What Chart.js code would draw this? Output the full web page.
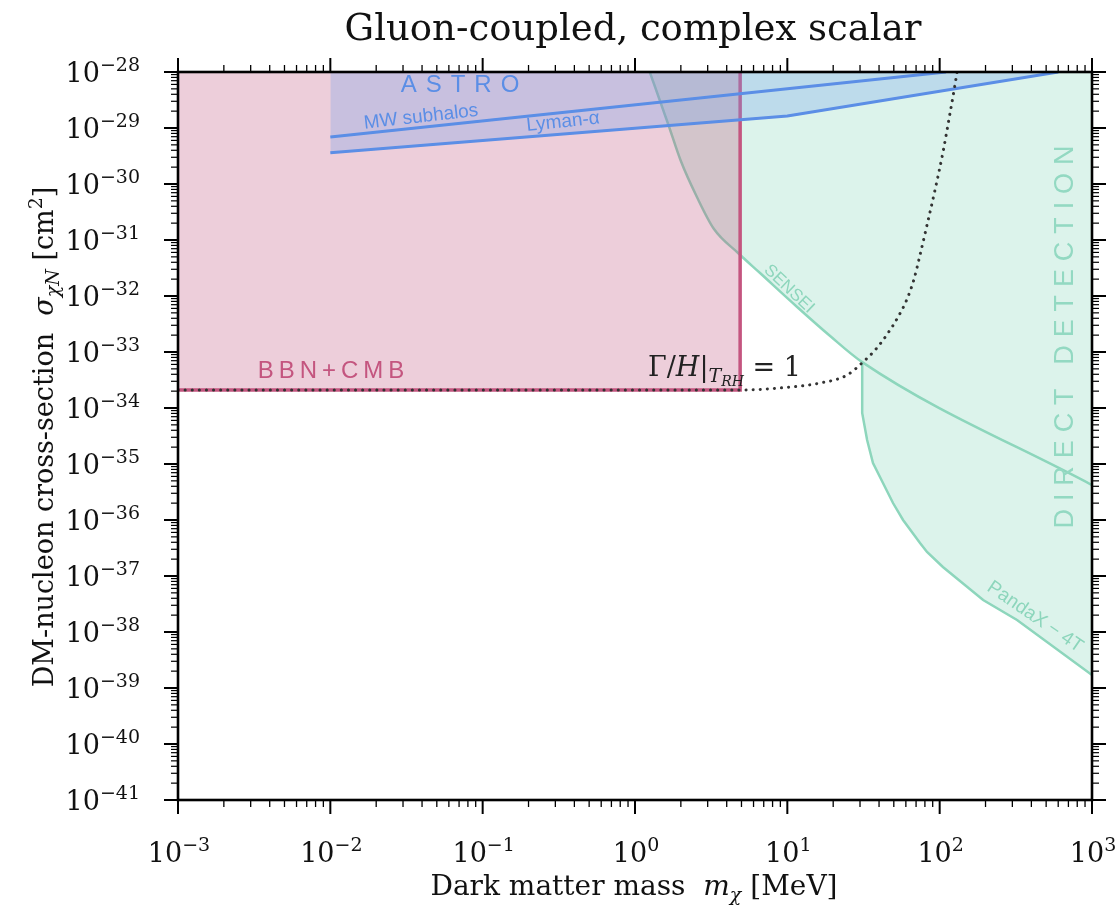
<!DOCTYPE html>
<html lang="en">
<head>
  <meta charset="UTF-8">
  <title>Gluon-coupled, complex scalar</title>
  <script src="https://cdn.jsdelivr.net/npm/chart.js"></script>
  <style>
    body { margin: 0; background: #fff; }
  </style>
</head>
<body>
  <canvas id="dmChart" width="1119" height="912"></canvas>

  <script>
    // axis decades (powers of ten)
    const xDecades = [-3, -2, -1, 0, 1, 2, 3];
    const yDecades = [-28, -29, -30, -31, -32, -33, -34, -35, -36, -37, -38, -39, -40, -41];

    // BBN + CMB excluded box (mass in MeV, cross-section in cm^2)
    const bbnX = [1e-3, 4.9, 4.9];
    const bbnY = [2.1e-34, 2.1e-34, 1e-28];

    // astro bounds
    const mwX = [0.01, 110];
    const mwY = [6.9e-30, 1e-28];
    const lyaX = [0.01, 10, 600];
    const lyaY = [3.6e-30, 1.64e-29, 1e-28];

    // direct detection
    const senseiX = [1.25, 1.65, 2.0, 2.55, 3.3, 4.75, 6.62, 11.6, 19.1, 31, 1000];
    const senseiY = [1e-28, 1.18e-29, 2.57e-30, 5.86e-31, 1.57e-31, 5.86e-32, 2.57e-32, 6.37e-33, 1.93e-33, 6.6e-34, 4.2e-36];
    const pandaX = [31, 31, 33.4, 36.5, 49.4, 57.5, 74.3, 82.6, 105, 193, 322, 1000];
    const pandaY = [6.6e-34, 8.15e-35, 2.68e-35, 1.04e-35, 2.01e-36, 1.0e-36, 3.88e-37, 2.68e-37, 1.45e-37, 3.73e-38, 1.64e-38, 1.71e-39];

    // Gamma/H = 1 at T_RH
    const gammaX = [1e-3, 4.9, 8.95, 16.4, 24.7, 31.4, 38.2, 45.8, 53.3, 61.1, 67.9, 74.3, 82.6, 93.2, 105.2, 117, 126, 130];
    const gammaY = [2.09e-34, 2.09e-34, 2.28e-34, 2.79e-34, 3.88e-34, 6.63e-34, 1.13e-33, 2.18e-33, 4.22e-33, 8.84e-33, 2.01e-32, 5.4e-32, 1.85e-31, 7.82e-31, 3.73e-30, 1.85e-29, 5.86e-29, 1e-28];

    // union of SENSEI + PandaX regions
    const detX = senseiX.slice(0, 10).concat(pandaX.slice(1));
    const detY = senseiY.slice(0, 10).concat(pandaY.slice(1));

    function pts(xs, ys) {
      return xs.map((x, i) => ({ x: x, y: ys[i] }));
    }

    const SERIF = '"DejaVu Serif", serif';
    const SANS = '"Liberation Sans", Arial, sans-serif';

    // draw a list of text runs in a row, anchored on (cx, cy) after rotation
    function drawRuns(ctx, runs, cx, cy, angle, align) {
      ctx.save();
      ctx.translate(cx, cy);
      ctx.rotate(angle || 0);
      let total = 0;
      runs.forEach(r => { ctx.font = r.font; r.w = ctx.measureText(r.t).width; total += r.w; });
      let x = align === 'right' ? -total : (align === 'left' ? 0 : -total / 2);
      ctx.textBaseline = 'alphabetic';
      ctx.textAlign = 'left';
      runs.forEach(r => {
        ctx.font = r.font;
        ctx.fillStyle = r.color || '#111';
        ctx.fillText(r.t, x, r.dy || 0);
        x += r.w;
      });
      ctx.restore();
    }

    // letter-spaced label
    function spacedText(ctx, text, cx, cy, angle, font, color, gap) {
      ctx.save();
      ctx.translate(cx, cy);
      ctx.rotate(angle || 0);
      ctx.font = font;
      ctx.fillStyle = color;
      ctx.textBaseline = 'middle';
      ctx.textAlign = 'left';
      const chars = text.split('');
      let total = 0;
      chars.forEach(c => { total += (c === ' ' ? gap * 2 : ctx.measureText(c).width + gap); });
      total -= gap;
      let x = -total / 2;
      chars.forEach(c => {
        if (c === ' ') { x += gap * 2; return; }
        ctx.fillText(c, x, 0);
        x += ctx.measureText(c).width + gap;
      });
      ctx.restore();
    }

    function rotatedText(ctx, text, cx, cy, angle, font, color) {
      ctx.save();
      ctx.fillStyle = color;
      ctx.font = font;
      ctx.textAlign = 'center';
      ctx.textBaseline = 'middle';
      ctx.translate(cx, cy);
      ctx.rotate(angle);
      ctx.fillText(text, 0, 0);
      ctx.restore();
    }

    function supLabel(p) {
      return [
        { t: '10', font: '27px ' + SERIF },
        { t: (p < 0 ? '\u2212' : '') + Math.abs(p), font: '19px ' + SERIF, dy: -11 }
      ];
    }

    const decorPlugin = {
      id: 'decor',
      afterDatasetsDraw(chart) {
        const ctx = chart.ctx;
        // region labels
        spacedText(ctx, 'ASTRO', 460, 85, 0, '24px ' + SANS, '#5b8ee6', 9);
        spacedText(ctx, 'BBN+CMB', 331, 371, 0, '24px ' + SANS, '#c4557f', 5);
        spacedText(ctx, 'DIRECT DETECTION', 1066, 337, -Math.PI / 2, '27px ' + SANS, '#93d9c2', 7.9);

        rotatedText(ctx, 'MW subhalos', 421, 117, -0.112, '19px ' + SANS, '#5b8ee6');
        rotatedText(ctx, 'Lyman-\u03b1', 563, 122, -0.105, '19px ' + SANS, '#5b8ee6');
        rotatedText(ctx, 'SENSEI', 789, 289, 0.76, '17px ' + SANS, '#8dd6bc');
        rotatedText(ctx, 'PandaX \u2212 4T', 1035, 617, 0.6, '19px ' + SANS, '#8dd6bc');

        // Gamma/H|_{T_RH} = 1
        drawRuns(ctx, [
          { t: '\u0393/', font: '27px ' + SERIF, color: '#222' },
          { t: 'H', font: 'italic 27px ' + SERIF, color: '#222' },
          { t: '|', font: '27px ' + SERIF, color: '#222' },
          { t: 'T', font: 'italic 19px ' + SERIF, color: '#222', dy: 6 },
          { t: 'RH', font: 'italic 14px ' + SERIF, color: '#222', dy: 10 },
          { t: ' = 1', font: '27px ' + SERIF, color: '#222' }
        ], 648, 376, 0, 'left');
      },
      afterDraw(chart) {
        const ctx = chart.ctx;
        const a = chart.chartArea;
        const xs = chart.scales.x;
        const ys = chart.scales.y;

        ctx.save();
        ctx.strokeStyle = '#000';
        // minor + major ticks, outward on all four sides
        const tick = (x1, y1, x2, y2, w) => {
          ctx.lineWidth = w;
          ctx.beginPath();
          ctx.moveTo(x1, y1);
          ctx.lineTo(x2, y2);
          ctx.stroke();
        };
        xDecades.forEach(p => {
          const px = xs.getPixelForValue(Math.pow(10, p));
          tick(px, a.bottom, px, a.bottom + 14, 2);
          tick(px, a.top, px, a.top - 14, 2);
          if (p < 3) {
            for (let k = 2; k <= 9; k++) {
              const mx = xs.getPixelForValue(k * Math.pow(10, p));
              tick(mx, a.bottom, mx, a.bottom + 7, 1.3);
              tick(mx, a.top, mx, a.top - 7, 1.3);
            }
          }
        });
        yDecades.forEach(p => {
          const py = ys.getPixelForValue(Math.pow(10, p));
          tick(a.left, py, a.left - 14, py, 2);
          tick(a.right, py, a.right + 14, py, 2);
          if (p > -41) {
            for (let k = 2; k <= 9; k++) {
              const my = ys.getPixelForValue(k * Math.pow(10, p - 1));
              tick(a.left, my, a.left - 7, my, 1.2);
              tick(a.right, my, a.right + 7, my, 1.2);
            }
          }
        });
        // frame
        ctx.lineWidth = 2.6;
        ctx.strokeRect(a.left, a.top, a.right - a.left, a.bottom - a.top);
        ctx.restore();

        // tick labels
        xDecades.forEach(p => {
          const px = xs.getPixelForValue(Math.pow(10, p));
          drawRuns(ctx, supLabel(p), px + 1, 862, 0, 'center');
        });
        yDecades.forEach(p => {
          const py = ys.getPixelForValue(Math.pow(10, p));
          drawRuns(ctx, supLabel(p), 140, py + 10, 0, 'right');
        });

        // title and axis titles
        drawRuns(ctx, [{ t: 'Gluon-coupled, complex scalar', font: '37px ' + SERIF }], 633, 40, 0, 'center');
        drawRuns(ctx, [
          { t: 'Dark matter mass  ', font: '28px ' + SERIF },
          { t: 'm', font: 'italic 28px ' + SERIF },
          { t: '\u03c7', font: 'italic 19px ' + SERIF, dy: 6 },
          { t: ' [MeV]', font: '28px ' + SERIF }
        ], 634, 895, 0, 'center');
        drawRuns(ctx, [
          { t: 'DM-nucleon cross-section  ', font: '27px ' + SERIF },
          { t: '\u03c3', font: 'italic 27px ' + SERIF },
          { t: '\u03c7N', font: 'italic 19px ' + SERIF, dy: 6 },
          { t: ' [cm', font: '27px ' + SERIF },
          { t: '2', font: '19px ' + SERIF, dy: -11 },
          { t: ']', font: '27px ' + SERIF }
        ], 53, 437, -Math.PI / 2, 'center');
      }
    };

    const ctx = document.getElementById('dmChart').getContext('2d');
    new Chart(ctx, {
      type: 'line',
      data: {
        datasets: [
          {
            // dotted Gamma/H curve on top
            data: pts(gammaX, gammaY),
            borderColor: '#333',
            borderWidth: 3,
            borderDash: [0.1, 7],
            borderCapStyle: 'round',
            cubicInterpolationMode: 'monotone',
            fill: false,
            order: 1
          },
          {
            data: pts(mwX, mwY),
            borderColor: '#5b8ee6',
            borderWidth: 3,
            fill: false,
            order: 2
          },
          {
            // Lyman-alpha line, ASTRO region filled up to the top
            data: pts(lyaX, lyaY),
            borderColor: '#5b8ee6',
            borderWidth: 3,
            backgroundColor: 'rgba(117, 163, 235, 0.3)',
            fill: 'end',
            order: 3
          },
          {
            data: pts(bbnX, bbnY),
            borderColor: '#c4557f',
            borderWidth: 3.5,
            backgroundColor: 'rgba(190, 75, 120, 0.27)',
            fill: 'end',
            order: 4
          },
          {
            data: pts(senseiX, senseiY),
            borderColor: '#8dd6bc',
            borderWidth: 2.5,
            cubicInterpolationMode: 'monotone',
            fill: false,
            order: 5
          },
          {
            data: pts(pandaX, pandaY),
            borderColor: '#8dd6bc',
            borderWidth: 2.5,
            fill: false,
            order: 6
          },
          {
            data: pts(detX, detY),
            borderWidth: 0,
            borderColor: 'rgba(0,0,0,0)',
            backgroundColor: 'rgba(110, 205, 170, 0.24)',
            fill: 'end',
            order: 7
          }
        ]
      },
      options: {
        responsive: false,
        animation: false,
        devicePixelRatio: 1,
        layout: { padding: { left: 178, right: 27, top: 72, bottom: 112 } },
        elements: { point: { radius: 0 } },
        plugins: {
          legend: { display: false },
          tooltip: { enabled: false },
          title: { display: false }
        },
        scales: {
          x: {
            type: 'logarithmic',
            min: 1e-3,
            max: 1e3,
            ticks: { display: false },
            grid: { display: false, drawTicks: false },
            border: { display: false },
            afterFit(s) { s.height = 0; }
          },
          y: {
            type: 'logarithmic',
            min: 1e-41,
            max: 1e-28,
            ticks: { display: false },
            grid: { display: false, drawTicks: false },
            border: { display: false },
            afterFit(s) { s.width = 0; }
          }
        }
      },
      plugins: [decorPlugin]
    });
  </script>
</body>
</html>
